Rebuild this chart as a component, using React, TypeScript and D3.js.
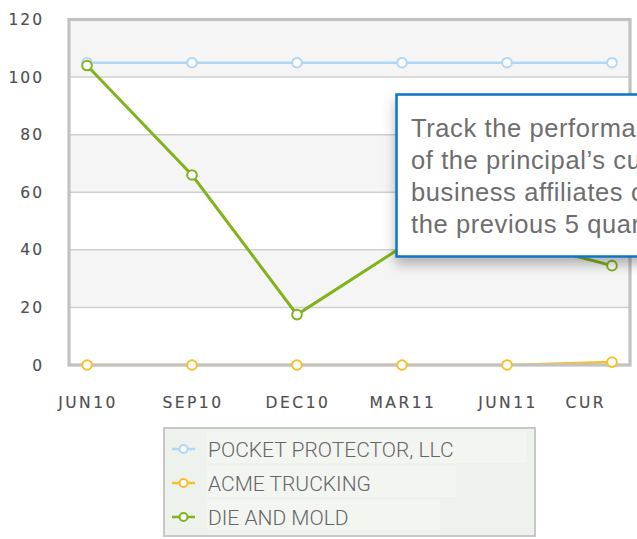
import React from "react";
import * as d3 from "d3";

const categories = ["JUN10", "SEP10", "DEC10", "MAR11", "JUN11", "CUR"];
const pocketProtector = [105, 105, 105, 105, 105, 105];
const acmeTrucking = [0, 0, 0, 0, 0, 1];
const dieAndMold = [104, 66, 17.5, 41, 44, 34.5];
const yTicks = [0, 20, 40, 60, 80, 100, 120];
const seriesNames = ["POCKET PROTECTOR, LLC", "ACME TRUCKING", "DIE AND MOLD"];
const seriesColors = ["#b0d7f6", "#f5c02c", "#80b31c"];
const tooltipLines = [
  "Track the performance",
  "of the principal\u2019s customers/",
  "business affiliates over",
  "the previous 5 quarters.",
];

const W = 637;
const H = 539;
const plot = { left: 69, right: 630, top: 19.5, bottom: 365 };

export default function App() {
  const x = d3.scalePoint<string>().domain(categories).range([87, 612]);
  const y = d3.scaleLinear().domain([0, 120]).range([plot.bottom, plot.top]);
  const series = [pocketProtector, acmeTrucking, dieAndMold];
  const line = (vals: number[]) =>
    d3
      .line<number>()
      .x((_, i) => x(categories[i]) as number)
      .y((v) => y(v))(vals) as string;

  const axisFont = "'DejaVu Sans', Verdana, sans-serif";
  const bands = d3.range(0, yTicks.length - 1);
  const last = categories.length - 1;

  return (
    <svg
      width={W}
      height={H}
      style={{ position: "absolute", left: 0, top: 0, display: "block" }}
    >
      <defs>
        <filter id="shadow" x="-20%" y="-20%" width="140%" height="160%">
          <feDropShadow dx="0" dy="7" stdDeviation="6" floodColor="#000" floodOpacity="0.28" />
        </filter>
        <clipPath id="pageclip">
          <rect x={0} y={0} width={W} height={H} />
        </clipPath>
      </defs>
      <rect x={0} y={0} width={W} height={H} fill="#fff" />
      {bands.map((i) => (
        <rect
          key={"b" + i}
          x={plot.left}
          y={y(yTicks[i + 1])}
          width={plot.right - plot.left}
          height={y(yTicks[i]) - y(yTicks[i + 1])}
          fill={i % 2 === 1 ? "#f5f5f5" : "#ffffff"}
        />
      ))}
      {yTicks.slice(1, -1).map((t) => (
        <line
          key={"g" + t}
          x1={plot.left}
          x2={plot.right}
          y1={y(t)}
          y2={y(t)}
          stroke="#cfcfcf"
          strokeWidth={1.5}
        />
      ))}
      {series.map((vals, si) => (
        <path
          key={"p" + si}
          d={line(vals)}
          fill="none"
          stroke={seriesColors[si]}
          strokeWidth={si === 2 ? 3 : 2.5}
        />
      ))}
      <rect
        x={plot.left}
        y={plot.top}
        width={plot.right - plot.left}
        height={plot.bottom - plot.top}
        fill="none"
        stroke="#c2c2c2"
        strokeWidth={3.2}
      />
      {series.map((vals, si) => (
        <g key={"s" + si}>
          {vals.map((v, i) => (
            <circle
              key={i}
              cx={x(categories[i]) as number}
              cy={y(v)}
              r={4.8}
              fill="#fff"
              stroke={seriesColors[si]}
              strokeWidth={2}
            />
          ))}
        </g>
      ))}
      {yTicks.map((t) => (
        <text
          key={"y" + t}
          x={44}
          y={y(t) + 5.5}
          textAnchor="end"
          fontFamily={axisFont}
          fontSize={15.5}
          letterSpacing={2}
          fill="#505050"
          stroke="#505050"
          strokeWidth={0.15}
        >
          {t}
        </text>
      ))}
      {categories.map((c, i) => (
        <text
          key={"x" + c}
          x={i === last ? (x(c) as number) - 6 : (x(c) as number) + 1}
          y={408}
          textAnchor={i === last ? "end" : "middle"}
          fontFamily={axisFont}
          fontSize={15.5}
          letterSpacing={2.5}
          fill="#505050"
          stroke="#505050"
          strokeWidth={0.15}
        >
          {c}
        </text>
      ))}
      <g clipPath="url(#pageclip)">
        <rect
          x={396.5}
          y={94.5}
          width={300}
          height={162}
          fill="#fff"
          stroke="#0b74c3"
          strokeWidth={2.5}
          filter="url(#shadow)"
        />
        {tooltipLines.map((l, i) => (
          <text
            key={"t" + i}
            x={411}
            y={137 + i * 32}
            fontFamily="'Liberation Sans', Arial, sans-serif"
            fontSize={25.5}
            letterSpacing={0.6}
            fill="#6e6e6e"
          >
            {l}
          </text>
        ))}
      </g>
      <rect x={164} y={428} width={371} height={108} fill="#eef2ec" stroke="#c8c8c8" strokeWidth={2} />
      {seriesNames.map((n, i) => {
        const cy = 449 + i * 34;
        return (
          <g key={"l" + i}>
            <rect
              x={207}
              y={cy - 17}
              width={[319, 249, 233][i]}
              height={31}
              fill="#f3f5f1"
            />
            <line x1={172} x2={195} y1={cy} y2={cy} stroke={seriesColors[i]} strokeWidth={2.5} />
            <circle cx={183.5} cy={cy} r={4} fill="#fff" stroke={seriesColors[i]} strokeWidth={2} />
            <text
              x={208}
              y={cy + 8}
              fontFamily="Roboto, 'Liberation Sans', sans-serif"
              fontWeight={300}
              fontSize={21}
              fill="#666"
            >
              {n}
            </text>
          </g>
        );
      })}
    </svg>
  );
}
